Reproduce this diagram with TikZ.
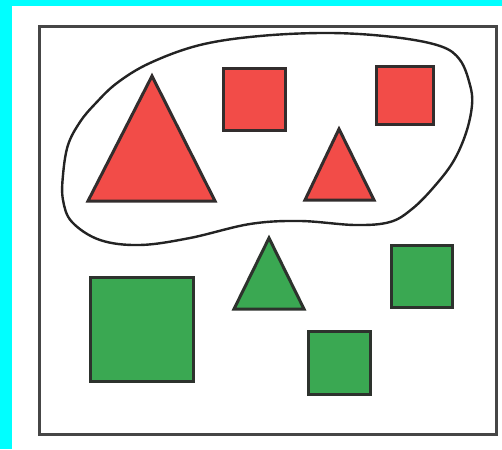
\documentclass[tikz,border=0pt]{standalone}
\begin{document}
\begin{tikzpicture}[x=1pt,y=-1pt,
  redfill/.style={fill={rgb,255:red,242;green,76;blue,72}, draw={rgb,255:red,50;green,45;blue,45}, line width=3pt, line join=miter},
  greenfill/.style={fill={rgb,255:red,58;green,168;blue,82}, draw={rgb,255:red,45;green,50;blue,45}, line width=3pt, line join=miter},
  frame/.style={draw={rgb,255:red,70;green,70;blue,70}, line width=3pt},
  blob/.style={draw={rgb,255:red,35;green,35;blue,35}, line width=2.4pt},
  cyanfill/.style={fill={rgb,255:red,0;green,255;blue,255}}]
\useasboundingbox (0,0) rectangle (502,449);
\fill[white] (0,0) rectangle (502,449);
\fill[cyanfill] (0,0) rectangle (12,449);
\fill[cyanfill] (0,0) rectangle (502,6);
\draw[frame] (39,27) rectangle (496,434);
% blob
\draw[blob] plot[smooth cycle, tension=0.6] coordinates {
 (63,175) (68,145) (80,122) (95,104) (117,83) (150,63) (200,45) (260,36)
 (330,33) (393,37) (440,46) (460,60) (470,85) (472,105) (466,133)
 (453,162) (433,188) (412,209) (390,222) (355,225) (300,221) (250,224)
 (190,238) (140,245) (100,240) (72,222) (63,200)};
% red shapes
\draw[redfill] (152,76) -- (215,201) -- (88,201) -- cycle;
\draw[redfill] (223,69) rectangle (285,131);
\draw[redfill] (376,67) rectangle (433,125);
\draw[redfill] (339,129) -- (374,200) -- (305,200) -- cycle;
% green shapes
\draw[greenfill] (90,277) rectangle (193,381);
\draw[greenfill] (269,238) -- (304,309) -- (234,309) -- cycle;
\draw[greenfill] (391,245) rectangle (452,307);
\draw[greenfill] (308,331) rectangle (370,394);
\end{tikzpicture}
\end{document}
